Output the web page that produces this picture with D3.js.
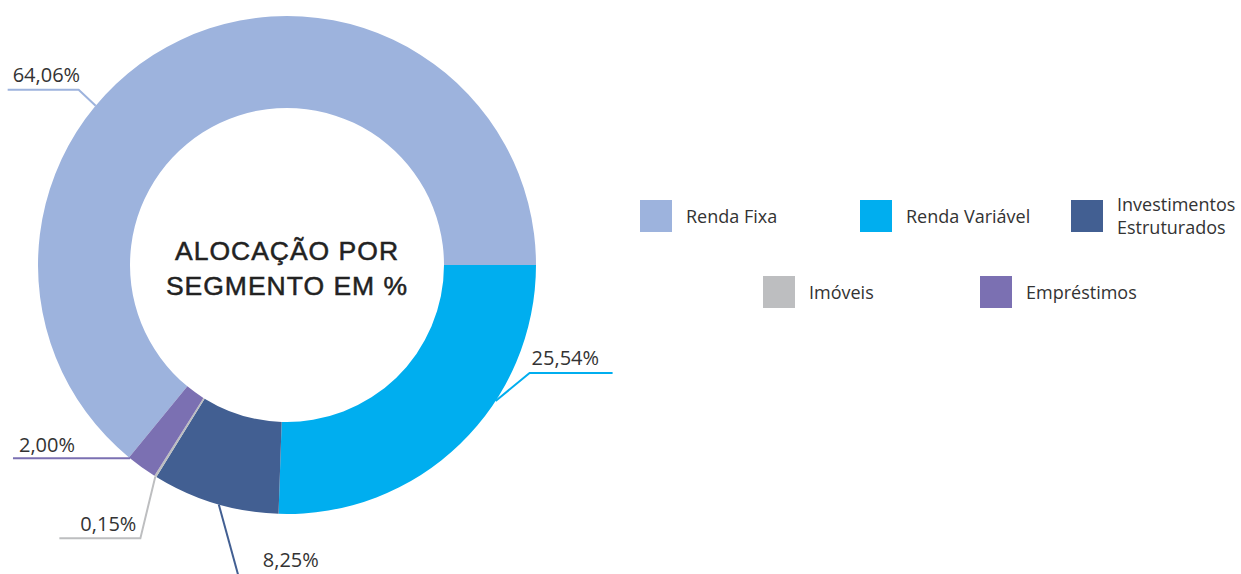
<!DOCTYPE html>
<html><head><meta charset="utf-8">
<script src="https://cdn.jsdelivr.net/npm/d3@7"></script>
<style>body{margin:0;background:#fff}svg{display:block}</style>
</head><body>
<svg id="c" width="1241" height="574"></svg>
<script>
const categories = ["Renda Fixa","Renda Variável","Investimentos Estruturados","Imóveis","Empréstimos"];
const values = [64.06, 25.54, 8.25, 0.15, 2.00];
const valueLabels = ["64,06%","25,54%","8,25%","0,15%","2,00%"];
const colors = ["#9DB3DD","#00AEEF","#425F92","#BDBEC0","#7B70B2"];
const titleLines = ["ALOCAÇÃO POR","SEGMENTO EM %"];

const svg = d3.select("#c");
const cx = 287, cy = 265, R = 249, r = 157;
const total = d3.sum(values);
const start = Math.PI/2 - 2*Math.PI*values[0]/total;

const pie = d3.pie().sort(null).value(d=>d)
  .startAngle(start).endAngle(start + 2*Math.PI);
const arcs = pie(values);
const arc = d3.arc().innerRadius(r).outerRadius(R);

const g = svg.append("g").attr("transform",`translate(${cx},${cy})`);
g.selectAll("path").data(arcs).enter().append("path")
  .attr("d",arc).attr("fill",(d,i)=>colors[i]);

// label layout: t = position along slice, pts = offsets from anchor, text offset & anchor
const labelLayout = [
  {t:0.392, pts:[[-17,-16],[-88,-16]], tx:-83, ty:-24, anchor:"start"},
  {t:0.36,  pts:[[34,-28],[117,-28]],  tx:36,  ty:-36, anchor:"start"},
  {t:0.47,  pts:[[22,80]],             tx:44,  ty:63,  anchor:"start"},
  {t:0.5,   pts:[[-15,62],[-96,62]],   tx:-19, ty:55,  anchor:"end"},
  {t:0.96,  pts:[[-117,0]],            tx:-111,ty:-6,  anchor:"start"}
];

arcs.forEach((a,i)=>{
  const L = labelLayout[i];
  const ang = a.startAngle + (a.endAngle - a.startAngle)*L.t;
  const ax = Math.sin(ang)*R, ay = -Math.cos(ang)*R;
  const pts = [[ax,ay]].concat(L.pts.map(p=>[ax+p[0],ay+p[1]]));
  g.append("path").attr("d",d3.line()(pts)).attr("fill","none")
    .attr("stroke",colors[i]).attr("stroke-width",2);
  g.append("text").attr("x",ax+L.tx).attr("y",ay+L.ty)
    .attr("text-anchor",L.anchor)
    .attr("font-family","'Open Sans', 'Noto Sans', sans-serif")
    .attr("font-size",20).attr("fill","#333").text(valueLabels[i]);
});

// center title
g.selectAll("text.title").data(titleLines).enter().append("text")
  .attr("class","title").attr("x",0).attr("y",(d,i)=>-5+i*35)
  .attr("text-anchor","middle")
  .attr("font-family","'Liberation Sans', Arial, sans-serif")
  .attr("font-size",26.5).attr("letter-spacing",1)
  .attr("fill","#222").attr("stroke","#222").attr("stroke-width",0.5)
  .text(d=>d);

// legend
const legendPos = [
  {x:640,y:200},{x:860,y:200},{x:1071,y:200},{x:763,y:276},{x:980,y:276}
];
const legendLines = [["Renda Fixa"],["Renda Variável"],["Investimentos","Estruturados"],["Imóveis"],["Empréstimos"]];
const lg = svg.append("g");
categories.forEach((c,i)=>{
  const p = legendPos[i];
  lg.append("rect").attr("x",p.x).attr("y",p.y).attr("width",32).attr("height",32).attr("fill",colors[i]);
  const lines = legendLines[i];
  const t = lg.append("text").attr("font-family","'Open Sans', 'Noto Sans', sans-serif")
    .attr("font-size",18).attr("fill","#333");
  lines.forEach((ln,j)=>{
    t.append("tspan").attr("x",p.x+46)
      .attr("y", lines.length===1 ? p.y+23 : p.y+11+j*23).text(ln);
  });
});
</script>
</body></html>
